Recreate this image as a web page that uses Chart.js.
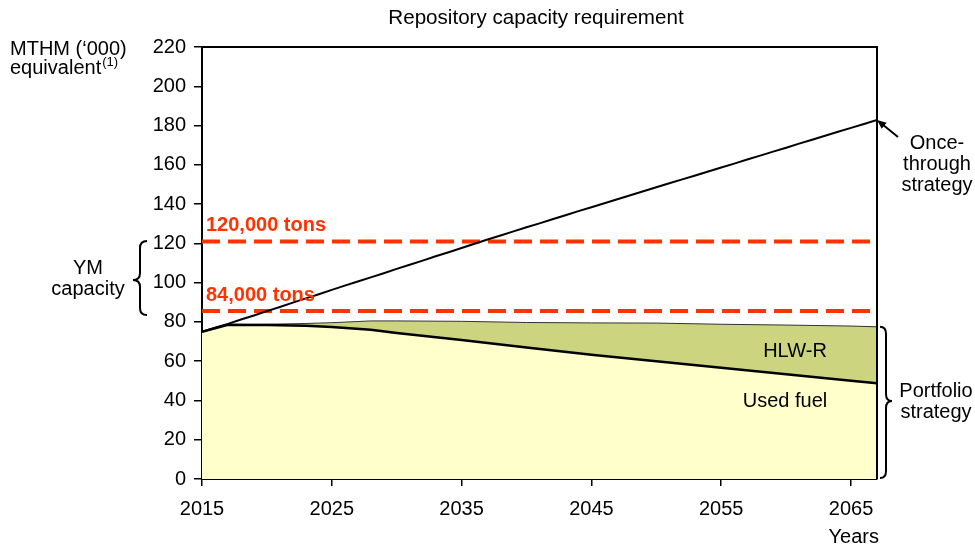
<!DOCTYPE html>
<html><head><meta charset="utf-8">
<script src="https://cdn.jsdelivr.net/npm/chart.js@4.4.1/dist/chart.umd.min.js"></script>
<style>html,body{margin:0;padding:0;background:#fff;} #wrap{width:975px;height:550px;}</style>
</head><body><div id="wrap"><canvas id="c" width="975" height="550"></canvas></div>
<script>
// ---- data ----
const years = [2015,2016,2017,2018,2019,2020,2021,2022,2023,2024,2025,2026,2027,2028,2029,2030,2031,2032,2033,2034,2035,2036,2037,2038,2039,2040,2041,2042,2043,2044,2045,2046,2047,2048,2049,2050,2051,2052,2053,2054,2055,2056,2057,2058,2059,2060,2061,2062,2063,2064,2065,2066,2067];
const onceThrough = [75.0,77.0,79.0,81.2,83.3,85.5,87.6,89.8,92.0,94.1,96.3,98.5,100.6,102.7,104.8,107.0,109.1,111.2,113.4,115.5,117.6,119.8,122.0,124.0,126.1,128.2,130.2,132.3,134.3,136.4,138.4,140.4,142.5,144.5,146.5,148.6,150.6,152.6,154.6,156.6,158.6,160.6,162.7,164.7,166.7,168.7,170.8,172.8,174.8,176.8,178.8,180.8,182.8];
const portfolioYears = [2015,2017,2020,2023,2025,2028,2030,2035,2040,2045,2050,2055,2060,2065,2067];
const usedFuel       = [75.0,78.5,78.4,78.0,77.4,76.0,74.4,70.8,67.0,63.3,60.0,56.6,53.3,50.0,48.8];
const portfolioTotal = [75.0,78.5,78.8,79.2,79.6,80.5,80.5,80.3,79.7,79.5,79.4,78.8,78.4,77.9,77.5];
const capacityLimits = [121, 85.5];
const capacityLabels = ['120,000 tons', '84,000 tons'];
const xTickYears = [2015,2025,2035,2045,2055,2065];
const yMin = 0, yMax = 220, yStep = 20;
const xMin = 2015, xMax = 2067;

const FONT = "'Liberation Sans', Arial, Helvetica, sans-serif";
Chart.defaults.font.family = FONT;
Chart.defaults.font.size = 20;
Chart.defaults.color = '#000';

const pts = (xs, ys) => xs.map((v, i) => ({x: v, y: ys[i]}));

function brace(ctx, xs, y1, y2, ym, d, r) {
  const end = xs - d, tip = xs + d;
  ctx.beginPath();
  ctx.moveTo(end, y1);
  ctx.quadraticCurveTo(xs, y1, xs, y1 + r);
  ctx.lineTo(xs, ym - r);
  ctx.quadraticCurveTo(xs, ym, tip, ym);
  ctx.quadraticCurveTo(xs, ym, xs, ym + r);
  ctx.lineTo(xs, y2 - r);
  ctx.quadraticCurveTo(xs, y2, end, y2);
  ctx.stroke();
}

const annot = {
  id: 'annot',
  afterDraw(chart) {
    const {ctx, chartArea: a, scales: {x, y}} = chart;
    ctx.save();
    ctx.strokeStyle = '#000'; ctx.lineWidth = 2;
    ctx.beginPath();
    ctx.moveTo(a.left, a.top); ctx.lineTo(a.right, a.top); ctx.lineTo(a.right, a.bottom);
    ctx.stroke();

    ctx.fillStyle = '#000';
    ctx.textBaseline = 'alphabetic';
    ctx.font = '20.6px ' + FONT; ctx.textAlign = 'center';
    ctx.fillText('Repository capacity requirement', 536, 24);
    ctx.font = '20px ' + FONT;
    ctx.textAlign = 'left';
    ctx.fillText('MTHM (\u2018000)', 10, 55);
    ctx.fillText('equivalent', 10, 74);
    const w = ctx.measureText('equivalent').width;
    ctx.font = '13px ' + FONT;
    ctx.fillText('(1)', 10 + w + 1, 66);

    ctx.font = '20px ' + FONT; ctx.textAlign = 'center';
    ctx.fillText('YM', 88, 274);
    ctx.fillText('capacity', 88, 295);
    ctx.lineWidth = 2;
    brace(ctx, 140, 241, 315, 280, -7, 7);

    ctx.font = 'bold 20px ' + FONT; ctx.textAlign = 'left'; ctx.fillStyle = '#FF3300';
    capacityLimits.forEach((v, i) => ctx.fillText(capacityLabels[i], 206, y.getPixelForValue(v) - 10));

    ctx.fillStyle = '#000'; ctx.font = '20px ' + FONT; ctx.textAlign = 'center';
    ctx.fillText('HLW-R', 795, 357);
    ctx.fillText('Used fuel', 785, 407);

    ctx.fillText('Once-', 937, 149);
    ctx.fillText('through', 937, 170);
    ctx.fillText('strategy', 937, 191);
    const ex = x.getPixelForValue(years[years.length - 1]);
    const ey = y.getPixelForValue(onceThrough[onceThrough.length - 1]);
    const sx = 898, sy = 137;
    const ang = Math.atan2(ey - sy, ex - sx);
    ctx.strokeStyle = '#000'; ctx.lineWidth = 2;
    ctx.beginPath(); ctx.moveTo(sx, sy); ctx.lineTo(ex - 6 * Math.cos(ang), ey - 6 * Math.sin(ang)); ctx.stroke();
    ctx.beginPath();
    ctx.moveTo(ex, ey);
    ctx.lineTo(ex - 10 * Math.cos(ang - 0.4), ey - 10 * Math.sin(ang - 0.4));
    ctx.lineTo(ex - 10 * Math.cos(ang + 0.4), ey - 10 * Math.sin(ang + 0.4));
    ctx.closePath(); ctx.fill();

    ctx.fillText('Portfolio', 936, 397);
    ctx.fillText('strategy', 936, 418);
    ctx.lineWidth = 2;
    brace(ctx, 886, y.getPixelForValue(portfolioTotal[portfolioTotal.length - 1]), a.bottom - 1, 401, 6, 7);

    ctx.textAlign = 'right';
    ctx.fillText('Years', 879, 543);
    ctx.restore();
  }
};

new Chart(document.getElementById('c'), {
  type: 'line',
  data: {
    datasets: [
      { label: 'Once-through strategy', data: pts(years, onceThrough), borderColor: '#000', borderWidth: 2, pointRadius: 0, fill: false, tension: 0 },
      { label: capacityLabels[0], data: pts([xMin, xMax], [capacityLimits[0], capacityLimits[0]]), borderColor: '#FF3300', borderWidth: 4, borderDash: [18, 8], pointRadius: 0, fill: false },
      { label: capacityLabels[1], data: pts([xMin, xMax], [capacityLimits[1], capacityLimits[1]]), borderColor: '#FF3300', borderWidth: 4, borderDash: [18, 8], pointRadius: 0, fill: false },
      { label: 'Used fuel', data: pts(portfolioYears, usedFuel), borderColor: '#000', borderWidth: 2.5, backgroundColor: '#FFFFCC', pointRadius: 0, fill: 'origin', tension: 0 },
      { label: 'HLW-R', data: pts(portfolioYears, portfolioTotal), borderColor: '#333', borderWidth: 1, backgroundColor: '#CCD47F', pointRadius: 0, fill: '-1', tension: 0 }
    ]
  },
  options: {
    responsive: false, animation: false,
    layout: { padding: { left: 0, right: 98, top: 47, bottom: 0 } },
    plugins: { legend: { display: false }, tooltip: { enabled: false }, title: { display: false } },
    scales: {
      x: {
        type: 'linear', min: xMin, max: xMax,
        afterBuildTicks: s => { s.ticks = xTickYears.map(v => ({ value: v })); },
        afterFit: s => { s.height = 71; },
        ticks: { callback: v => String(v), color: '#000', font: { size: 20 }, padding: 11, maxRotation: 0, autoSkip: false },
        grid: { drawOnChartArea: false, drawTicks: true, tickLength: 7, color: '#000', lineWidth: 1.5 },
        border: { display: true, color: '#000', width: 2 }
      },
      y: {
        min: yMin, max: yMax,
        afterFit: s => { s.width = 202; },
        ticks: { stepSize: yStep, color: '#000', font: { size: 20 }, padding: 8 },
        grid: { drawOnChartArea: false, drawTicks: true, tickLength: 8, color: '#000', lineWidth: 1.5 },
        border: { display: true, color: '#000', width: 2 }
      }
    }
  },
  plugins: [annot]
});
</script>
</body></html>
